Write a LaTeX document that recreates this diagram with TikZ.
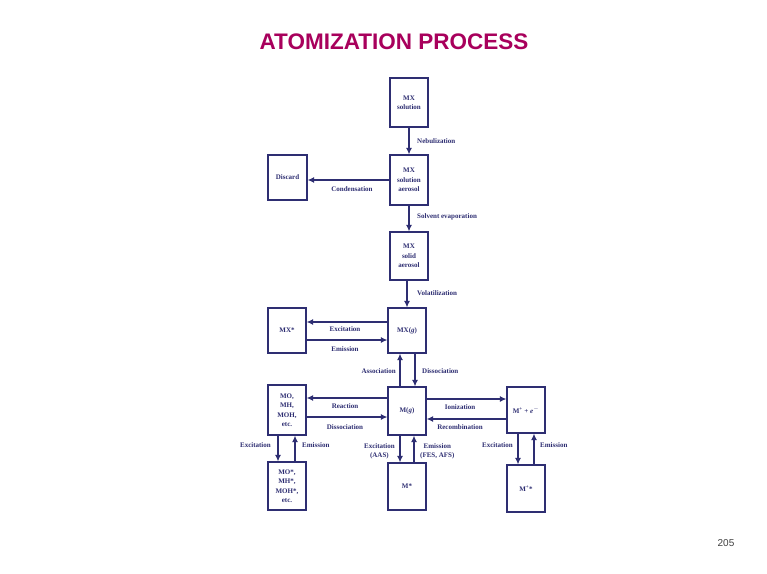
\documentclass[tikz,border=0pt]{standalone}
\usepackage{fontspec}
\setmainfont{Liberation Serif}
\newfontfamily\titlefont{Liberation Sans}
\usetikzlibrary{arrows.meta}
\definecolor{ink}{HTML}{2E2E72}
\definecolor{titlec}{HTML}{A8005C}
\begin{document}
\begin{tikzpicture}[x=1pt,y=-1pt,
  box/.style={draw=ink, line width=1.2pt, minimum width=38pt, minimum height=47pt, inner sep=0pt, align=center, font=\bfseries\fontsize{7}{9.5}\selectfont, text=ink},
  lbl/.style={font=\bfseries\fontsize{7}{9}\selectfont, text=ink, inner sep=0pt, align=center},
  arr/.style={draw=ink, line width=1.2pt, -{Latex[length=6.5pt,width=6pt]}}]
\fill[white] (0,0) rectangle (767,573);
\useasboundingbox (0,0) rectangle (767,573);

\node[font=\titlefont\bfseries\fontsize{22.5}{22.5}\selectfont, text=titlec] (title) at (394,42) {ATOMIZATION PROCESS};
\node[font=\titlefont\fontsize{10}{10}\selectfont, text=black!75] (page) at (726,543) {205};

\node[box, minimum height=49pt] (mxsol) at (409,102.5) {MX\\solution};
\node[box, minimum height=50pt] (aer) at (409,180) {MX\\solution\\aerosol};
\node[box, minimum width=39pt, minimum height=45pt] (disc) at (287.5,177.5) {Discard};
\node[box, minimum height=48pt] (solid) at (409,256) {MX\\solid\\aerosol};
\node[box, minimum height=45pt] (mxg) at (407,330.5) {MX(\textit{g})};
\node[box, minimum height=45pt] (mxs) at (287,330.5) {MX*};
\node[box, minimum height=48pt] (mg) at (407,411) {M(\textit{g})};
\node[box, minimum height=50pt] (mo) at (287,410) {MO,\\MH,\\MOH,\\etc.};
\node[box, minimum height=48pt] (mos) at (287,486) {MO*,\\MH*,\\MOH*,\\etc.};
\node[box, minimum height=47pt] (mstar) at (407,486.5) {M*};
\node[box, minimum height=46pt] (mion) at (526,410) {M\textsuperscript{+} + \textit{e}\textsuperscript{$-$}};
\node[box, minimum height=47pt] (mions) at (526,488.5) {M\textsuperscript{+}*};

\draw[arr] (mxsol) -- (aer);
\node[lbl, anchor=west] at (417,141) {Nebulization};
\draw[arr] (aer.west) -- (aer.west -| disc.east);
\node[lbl] at (352,189) {Condensation};
\draw[arr] (aer) -- (solid);
\node[lbl, anchor=west] at (417,217) {Solvent evaporation};
\draw[arr] (solid.south -| mxg.north) -- (mxg.north);
\node[lbl, anchor=west] at (417,293) {Volatilization};

\draw[arr] (mxg.west |- 0,322) -- (mxs.east |- 0,322);
\node[lbl] at (345,329) {Excitation};
\draw[arr] (mxs.east |- 0,340) -- (mxg.west |- 0,340);
\node[lbl] at (345,349) {Emission};

\draw[arr] (mg.north -| 400,0) -- (mxg.south -| 400,0);
\node[lbl, anchor=east] at (396,371) {Association};
\draw[arr] (mxg.south -| 415,0) -- (mg.north -| 415,0);
\node[lbl, anchor=west] at (422,371) {Dissociation};

\draw[arr] (mg.west |- 0,398) -- (mo.east |- 0,398);
\node[lbl] at (345,406) {Reaction};
\draw[arr] (mo.east |- 0,417) -- (mg.west |- 0,417);
\node[lbl] at (345,427) {Dissociation};

\draw[arr] (mo.south -| 278,0) -- (mos.north -| 278,0);
\node[lbl, anchor=east] at (271,445) {Excitation};
\draw[arr] (mos.north -| 295,0) -- (mo.south -| 295,0);
\node[lbl, anchor=west] at (302,445) {Emission};

\draw[arr] (mg.south -| 400,0) -- (mstar.north -| 400,0);
\node[lbl, anchor=east] at (395,451) {Excitation\\(AAS)};
\draw[arr] (mstar.north -| 414,0) -- (mg.south -| 414,0);
\node[lbl, anchor=west] at (420,451) {Emission\\(FES, AFS)};

\draw[arr] (mg.east |- 0,399) -- (mion.west |- 0,399);
\node[lbl] at (460,407) {Ionization};
\draw[arr] (mion.west |- 0,419) -- (mg.east |- 0,419);
\node[lbl] at (460,427) {Recombination};

\draw[arr] (mion.south -| 518,0) -- (mions.north -| 518,0);
\node[lbl, anchor=east] at (513,445) {Excitation};
\draw[arr] (mions.north -| 534,0) -- (mion.south -| 534,0);
\node[lbl, anchor=west] at (540,445) {Emission};
\end{tikzpicture}
\end{document}
